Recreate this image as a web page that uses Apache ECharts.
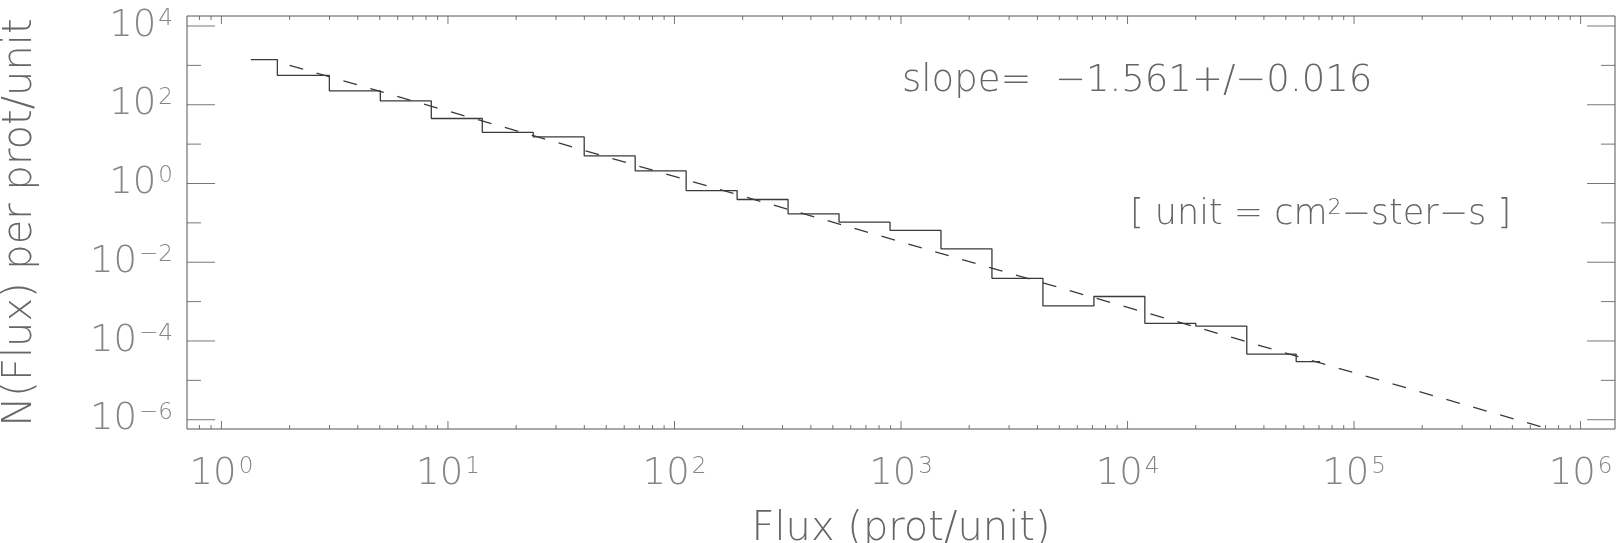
<!DOCTYPE html>
<html>
<head>
<meta charset="utf-8">
<title>N(Flux) per prot/unit</title>
<script src="https://cdn.jsdelivr.net/npm/echarts@6/dist/echarts.min.js"></script>
<style>
  html, body { margin: 0; padding: 0; background: #fff; }
  #main { width: 1622px; height: 543px; }
</style>
</head>
<body>
<div id="main"></div>
<script>
// histogram: bin centres (prot/unit) and N(Flux)
var fluxCenters = [1.349, 2.312, 3.882, 6.516, 10.94, 18.37, 30.83, 51.76, 86.90, 145.9, 244.9,
  411.1, 690.2, 1159, 1945, 3266, 5483, 9205, 15450, 25940, 43550, 70800];
var nFlux = [1403, 555.9, 223.9, 125.3, 44.67, 19.95, 15.24, 5.023, 2.089, 0.6607, 0.3917,
  0.1694, 0.1042, 0.06457, 0.02188, 0.003890, 0.0007762, 0.001349, 0.0002799, 0.0002388,
  0.00004645, 0.00002985];

// power law fit (dashed), start and end as drawn
var fitFlux = [2.0, 7.24e5];
var fitN = [1005, 5.81e-7];

// axes
var xMin = 0.7047, xMax = 1.419e6;
var yMin = 5.81e-7, yMax = 1.795e4;
var xMajor = [1, 10, 100, 1e3, 1e4, 1e5, 1e6];
var xMajorExp = ['0', '1', '2', '3', '4', '5', '6'];
var yMajor = [1e-6, 1e-4, 1e-2, 1, 1e2, 1e4];
var yMajorExp = ['\u22126', '\u22124', '\u22122', '0', '2', '4'];
var yMinor = [1e-5, 1e-3, 1e-1, 10, 1e3];
var xMinor = [0.8, 0.9];
for (var d = 1; d <= 1e5; d *= 10) {
  for (var m = 2; m <= 9; m++) xMinor.push(d * m);
}

var FONT = 'DejaVu Sans';
var TXT = '#666';
var LINE = '#3a3a3a';

var rich = {
  b: { fontFamily: FONT, fontSize: 37, fontWeight: 200, color: TXT, lineHeight: 37, verticalAlign: 'bottom' },
  s: { fontFamily: FONT, fontSize: 23, fontWeight: 200, color: TXT, verticalAlign: 'top', padding: [0, 0, 0, 2] }
};

function ticks(points, size, offset) {
  return {
    type: 'scatter', data: points, symbol: 'rect', symbolSize: size, symbolOffset: offset,
    itemStyle: { color: '#555' }, clip: false, silent: true, z: 5
  };
}

function labels(points, exps, pos, dist) {
  return {
    type: 'scatter', data: points, symbolSize: 0, clip: false, silent: true,
    label: {
      show: true, position: pos, distance: dist,
      formatter: function (p) { return '{b|10}{s|' + exps[p.dataIndex] + '}'; },
      rich: rich
    }
  };
}

var chart = echarts.init(document.getElementById('main'));

var option = {
  animation: false,
  grid: {
    left: 187, right: 7, top: 16, bottom: 114,
    show: true, borderColor: '#555', borderWidth: 1,
    containLabel: false, outerBoundsMode: 'none'
  },
  xAxis: {
    type: 'log', logBase: 10, min: xMin, max: xMax,
    axisLine: { show: false }, axisTick: { show: false },
    axisLabel: { show: false }, splitLine: { show: false },
    name: 'Flux (prot/unit)', nameLocation: 'middle', nameGap: 81,
    nameTextStyle: { fontFamily: FONT, fontSize: 40, fontWeight: 200, color: TXT }
  },
  yAxis: {
    type: 'log', logBase: 10, min: yMin, max: yMax,
    axisLine: { show: false }, axisTick: { show: false },
    axisLabel: { show: false }, splitLine: { show: false },
    name: 'N(Flux) per prot/unit', nameLocation: 'middle', nameGap: 146,
    nameTextStyle: { fontFamily: FONT, fontSize: 40, fontWeight: 200, color: TXT }
  },
  graphic: [
    {
      type: 'text', x: 902, y: 81,
      style: {
        text: 'slope=  \u22121.561+/\u22120.016',
        fontFamily: FONT, fontSize: 37, fontWeight: 200, fill: TXT,
        align: 'left', verticalAlign: 'middle'
      }
    },
    {
      type: 'text', x: 1130, y: 215,
      style: {
        text: '[ unit = cm{s|2}\u2212ster\u2212s ]',
        fontFamily: FONT, fontSize: 35, fontWeight: 200, fill: TXT,
        align: 'left', verticalAlign: 'middle',
        rich: { s: { fontFamily: FONT, fontSize: 22, fontWeight: 200, fill: TXT, verticalAlign: 'top' } }
      }
    }
  ],
  series: [
    {
      type: 'line', step: 'middle', symbol: 'none', silent: true,
      data: fluxCenters.map(function (x, i) { return [x, nFlux[i]]; }),
      lineStyle: { color: LINE, width: 1.3 }
    },
    {
      type: 'line', symbol: 'none', silent: true,
      data: [[fitFlux[0], fitN[0]], [fitFlux[1], fitN[1]]],
      lineStyle: { color: LINE, width: 1.3, type: [14, 14] }
    },
    // x ticks, bottom and top
    ticks(xMajor.map(function (v) { return [v, yMin]; }), [1, 8], [0, -4]),
    ticks(xMajor.map(function (v) { return [v, yMax]; }), [1, 8], [0, 4]),
    ticks(xMinor.map(function (v) { return [v, yMin]; }), [1, 4], [0, -2]),
    ticks(xMinor.map(function (v) { return [v, yMax]; }), [1, 4], [0, 2]),
    // y ticks, left and right
    ticks(yMajor.map(function (v) { return [xMin, v]; }), [28, 1], [14, 0]),
    ticks(yMajor.map(function (v) { return [xMax, v]; }), [28, 1], [-14, 0]),
    ticks(yMinor.map(function (v) { return [xMin, v]; }), [14, 1], [7, 0]),
    ticks(yMinor.map(function (v) { return [xMax, v]; }), [14, 1], [-7, 0]),
    // tick labels
    labels(xMajor.map(function (v) { return [v, yMin]; }), xMajorExp, 'bottom', 27),
    labels(yMajor.map(function (v) { return [xMin, v]; }), yMajorExp, 'left', 14)
  ]
};

chart.setOption(option);
</script>
</body>
</html>
